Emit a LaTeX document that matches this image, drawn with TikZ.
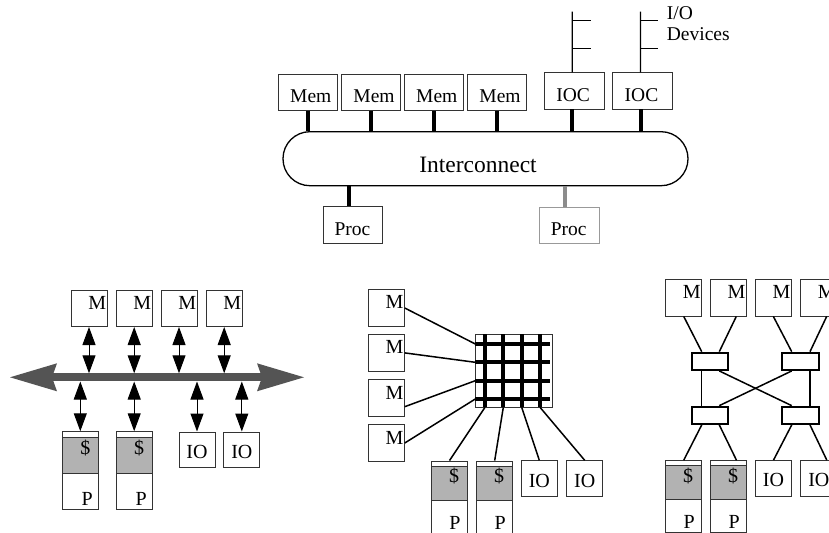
\documentclass[tikz,border=0pt]{standalone}
\usepackage{fontspec}
\setmainfont{Liberation Serif}
\usetikzlibrary{arrows.meta}
\begin{document}
\begin{tikzpicture}[x=1bp,y=-1bp,
  bc/.style={draw=black!80, line width=0.9bp, inner sep=0pt},
  toplab/.style={anchor=base, inner sep=0pt, font=\fontsize{19.5bp}{21bp}\selectfont},
  blab/.style={anchor=base, inner sep=0pt, font=\fontsize{20bp}{22bp}\selectfont},
  mem/.style={bc, minimum width=59bp, minimum height=35.6bp, label={[toplab,xshift=3bp,yshift=-3.5bp]center:Mem}},
  ioc/.style={bc, minimum width=59.7bp, minimum height=36.3bp, label={[toplab,xshift=-1bp,yshift=-4.1bp]center:IOC}},
  proc/.style={bc, minimum width=59.5bp, minimum height=36.5bp, label={[toplab,xshift=-0.5bp,yshift=-4.3bp]center:Proc}},
  stub/.style={line width=4bp},
  thinl/.style={line width=1.1bp},
  mbox/.style={bc, minimum width=36bp, minimum height=36.5bp, label={[blab,anchor=base east,xshift=-1.2bp,yshift=-1bp]east:M}},
  iobox/.style={bc, minimum width=36bp, minimum height=35.5bp, label={[blab,yshift=-2bp]center:IO}},
  cpbox/.style n args={3}{bc, minimum width=36bp, minimum height=#1,
    path picture={\draw[draw=black!80, line width=0.9bp, fill=gray!60]
      ([yshift=-#2]path picture bounding box.north west) rectangle
      ([yshift=-#3]path picture bounding box.north east);}},
  cpA/.style={cpbox={77.8bp}{5.8bp}{41.6bp},
    label={[blab,xshift=5bp,yshift=-23.3bp]north:\$},
    label={[blab,xshift=7bp,yshift=-74.3bp]north:P}},
  cpB/.style={cpbox={74bp}{5bp}{39bp},
    label={[blab,xshift=4.5bp,yshift=-22bp]north:\$},
    label={[blab,xshift=5.5bp,yshift=-69bp]north:P}},
  cpC/.style={cpbox={71.6bp}{4.3bp}{38.6bp},
    label={[blab,xshift=4.5bp,yshift=-22.6bp]north:\$},
    label={[blab,xshift=5.6bp,yshift=-68.6bp]north:P}},
  dbl/.style={line width=1bp, {Triangle[length=18bp,width=13bp]}-{Triangle[length=18bp,width=13bp]}},
  bus/.style={line width=8.3bp, black!67,
    {Stealth[length=47bp,width=28bp,inset=5bp,line width=0pt]}-{Stealth[length=47bp,width=28bp,inset=5bp,line width=0pt]}},
  wire/.style={line width=1.5bp},
  grid/.style={line width=4bp},
  sw/.style={draw, line width=2bp, minimum width=36.6bp, minimum height=17.3bp, inner sep=0pt}
]
\useasboundingbox (0,0) rectangle (829,533);
\clip (0,0) rectangle (829,533);

% ---------------- top: bus-based system ----------------
\node[mem] (mem1) at (307.8,92.5) {};
\node[mem] (mem2) at (371,92.5) {};
\node[mem] (mem3) at (433.8,92.5) {};
\node[mem] (mem4) at (497,92.5) {};
\node[ioc] (ioc1) at (574.2,90.9) {};
\node[ioc] (ioc2) at (642.5,90.9) {};
\node[draw, line width=1.3bp, minimum width=405bp, minimum height=54bp,
      rounded corners=26.9bp, inner sep=0pt] (ic) at (485.5,158.7) {};
\node[anchor=base, inner sep=0pt, font=\fontsize{23.5bp}{25bp}\selectfont] (ict) at (478,172.3) {Interconnect};
\node[proc] (proc1) at (353,225) {};
\node[proc, draw=black!40] (proc2) at (569.2,225.3) {};
\node[toplab, anchor=base west] (iolab) at (666.7,20) {I/O};
\node[toplab, anchor=base west] (devlab) at (666.7,40.7) {Devices};

\foreach \m in {mem1,mem2,mem3,mem4}
  \draw[stub] (\m.south) -- (\m.south |- ic.north);
\draw[stub] ([xshift=-2bp]ioc1.south) -- ([xshift=-2bp]ioc1.south |- ic.north);
\draw[stub] ([xshift=-2bp]ioc2.south) -- ([xshift=-2bp]ioc2.south |- ic.north);
\draw[stub] ([xshift=-3.7bp]proc1.north |- ic.south) -- ([xshift=-3.7bp]proc1.north);
\draw[stub, black!45] ([xshift=-4.2bp]proc2.north |- ic.south) -- ([xshift=-4.2bp]proc2.north);

\coordinate (d1) at (572.2,11.7);
\coordinate (d2) at (640.5,11.7);
\draw[thinl] (d1) -- ([xshift=-2bp]ioc1.north);
\draw[thinl] (d2) -- ([xshift=-2bp]ioc2.north);
\draw[thinl] (572.2,20.7) -- (590.7,20.7) (572.2,48.3) -- (590.7,48.3);
\draw[thinl] (640.5,20.7) -- (658.3,20.7) (640.5,48.3) -- (658.3,48.3);

% ---------------- bottom left: shared bus ----------------
\node[mbox] (mA1) at (89,308.3) {};
\node[mbox] (mA2) at (134.2,308.3) {};
\node[mbox] (mA3) at (179,308.3) {};
\node[mbox] (mA4) at (224.2,308.3) {};
\node[cpA] (pA1) at (80.3,470.6) {};
\node[cpA] (pA2) at (134.2,470.6) {};
\node[iobox] (iA1) at (197,449.7) {};
\node[iobox] (iA2) at (241.8,449.7) {};
\coordinate (busL) at (10,377.3);
\coordinate (busR) at (304,377.3);
\coordinate (bustop) at (0,373.3);
\coordinate (busbot) at (0,381.5);
\draw[bus] (busL) -- (busR);
\foreach \m in {mA1,mA2,mA3,mA4}
  \draw[dbl] (\m.south) -- (\m.south |- bustop);
\foreach \m in {pA1,pA2,iA1,iA2}
  \draw[dbl] (\m.north |- busbot) -- (\m.north);

% ---------------- bottom middle: crossbar ----------------
\node[mbox] (mB1) at (386.3,308) {};
\node[mbox] (mB2) at (386.3,352.9) {};
\node[mbox] (mB3) at (386.3,398) {};
\node[mbox] (mB4) at (386.3,443) {};
\node[cpB] (pB1) at (449.5,498) {};
\node[cpB] (pB2) at (494.7,498) {};
\node[iobox] (iB1) at (539.3,478.5) {};
\node[iobox] (iB2) at (584.7,478.5) {};
\node[bc, minimum width=77bp, minimum height=73bp] (xb) at (513.8,370.75) {};
\foreach \x in {485,503.3,521.7,540}
  \draw[grid] (\x,334.2) -- (\x,407.3);
\foreach \y in {344,362.3,380.7,399}
  \draw[grid] (475.3,\y) -- (550,\y);
\coordinate (xr1) at (475.3,344);
\coordinate (xr2) at (475.3,362.3);
\coordinate (xr3) at (475.3,380.7);
\coordinate (xr4) at (475.3,399);
\coordinate (xc1) at (485,407.3);
\coordinate (xc2) at (503.3,407.3);
\coordinate (xc3) at (521.7,407.3);
\coordinate (xc4) at (540,407.3);
\draw[wire] (mB1.east) -- (xr1);
\draw[wire] (mB2.east) -- (xr2);
\draw[wire] ([yshift=-8.7bp]mB3.east) -- (xr3);
\draw[wire] (mB4.east) -- (xr4);
\draw[wire] (xc1) -- (pB1.north);
\draw[wire] (xc2) -- (pB2.north);
\draw[wire] (xc3) -- (iB1.north);
\draw[wire] (xc4) -- (iB2.north);

% ---------------- bottom right: switch network ----------------
\node[mbox] (mC1) at (683.7,297.7) {};
\node[mbox] (mC2) at (728.3,297.7) {};
\node[mbox] (mC3) at (773.3,297.7) {};
\node[mbox] (mC4) at (818.7,297.7) {};
\node[sw] (swTL) at (710,361.3) {};
\node[sw] (swTR) at (800.3,361.3) {};
\node[sw] (swBL) at (710,415.3) {};
\node[sw] (swBR) at (800.3,415.3) {};
\node[cpC] (pC1) at (683.7,496.5) {};
\node[cpC] (pC2) at (728.5,496.5) {};
\node[iobox] (iC1) at (773.5,478.3) {};
\node[iobox] (iC2) at (818.8,478.3) {};
\draw[wire] (mC1.south) -- ([xshift=-8.3bp]swTL.north);
\draw[wire] ([xshift=8bp]mC2.south) -- ([xshift=9.3bp]swTL.north);
\draw[wire] (mC3.south) -- ([xshift=-8.6bp]swTR.north);
\draw[wire] ([xshift=8bp]mC4.south) -- ([xshift=9.7bp]swTR.north);
\draw[wire] ([xshift=-8.3bp]swTL.south) -- ([xshift=-8.3bp]swBL.north);
\draw[wire] ([xshift=9.7bp]swTR.south) -- ([xshift=9.7bp]swBR.north);
\draw[wire] ([xshift=9.3bp]swTL.south) -- ([xshift=-8.6bp]swBR.north);
\draw[wire] ([xshift=-8.6bp]swTR.south) -- ([xshift=9.3bp]swBL.north);
\draw[wire] ([xshift=-8.3bp]swBL.south) -- (pC1.north);
\draw[wire] ([xshift=9.3bp]swBL.south) -- ([xshift=8bp]pC2.north);
\draw[wire] ([xshift=-8.6bp]swBR.south) -- (iC1.north);
\draw[wire] ([xshift=9.7bp]swBR.south) -- ([xshift=8bp]iC2.north);
\end{tikzpicture}
\end{document}
